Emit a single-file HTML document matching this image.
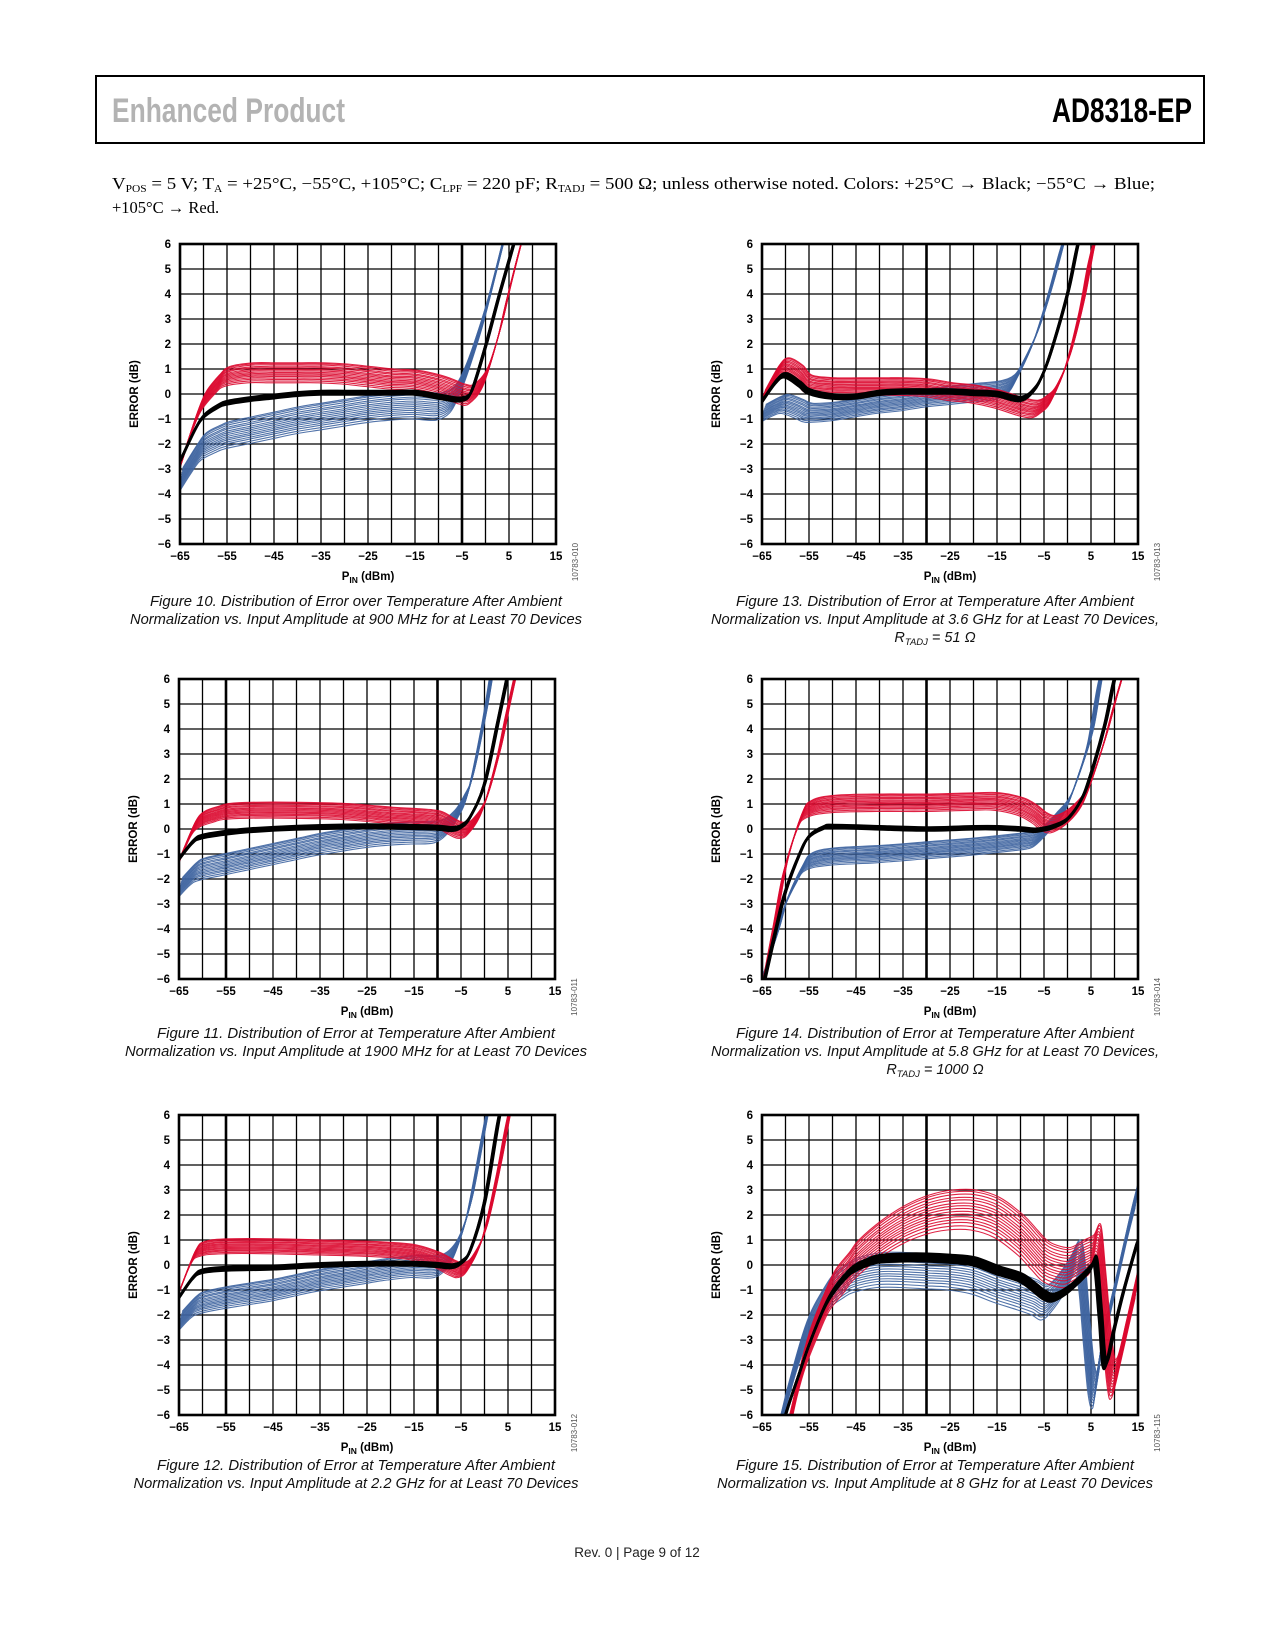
<!DOCTYPE html>
<html><head><meta charset="utf-8"><style>
html,body{margin:0;padding:0;background:#fff;}
svg{display:block;}
.tick{font-family:"Liberation Sans",Arial,sans-serif;font-weight:bold;font-size:11.5px;fill:#000;}
.cap{font-family:"Liberation Sans",Arial,sans-serif;font-style:italic;font-size:14.5px;fill:#111;}
.code{font-family:"Liberation Sans",Arial,sans-serif;font-size:8px;fill:#555;}
</style></head><body>
<svg id="page" width="1275" height="1650" viewBox="0 0 1275 1650" xmlns="http://www.w3.org/2000/svg">
<rect x="0" y="0" width="1275" height="1650" fill="#fff"/>
<rect x="96" y="76" width="1108" height="67" fill="none" stroke="#000" stroke-width="2"/>
<text x="112" y="122" font-family="Liberation Sans, sans-serif" font-weight="bold" font-size="34" fill="#b3b3b3" textLength="233" lengthAdjust="spacingAndGlyphs">Enhanced Product</text>
<text x="1192" y="122" text-anchor="end" font-family="Liberation Sans, sans-serif" font-weight="bold" font-size="34" fill="#000" textLength="140" lengthAdjust="spacingAndGlyphs">AD8318-EP</text>
<text x="112" y="189" font-family="Liberation Serif, serif" font-size="16.5" fill="#000" textLength="1043" lengthAdjust="spacingAndGlyphs">V<tspan font-size="10" dy="3">POS</tspan><tspan dy="-3"> = 5 V; T</tspan><tspan font-size="10" dy="3">A</tspan><tspan dy="-3"> = +25°C, −55°C, +105°C; C</tspan><tspan font-size="10" dy="3">LPF</tspan><tspan dy="-3"> = 220 pF; R</tspan><tspan font-size="10" dy="3">TADJ</tspan><tspan dy="-3"> = 500 Ω; unless otherwise noted. Colors: +25°C → Black; −55°C → Blue;</tspan></text>
<text x="112" y="213" font-family="Liberation Serif, serif" font-size="16.5" fill="#000">+105°C → Red.</text>
<text x="637" y="1557" text-anchor="middle" font-family="Liberation Sans, sans-serif" font-size="13.5" fill="#222">Rev. 0 | Page 9 of 12</text>
<g id="charts"></g>
</svg>
<script>
// ---- chart data (P_IN dBm -> error dB) ----
const fig10_black_x=[-65,-62,-60,-57,-55,-50,-45,-40,-35,-30,-25,-20,-15,-10,-7,-5,-3,0,3,6,8];
const fig10_black_y=[-2.7,-1.5,-0.9,-0.5,-0.35,-0.2,-0.1,0,0.05,0.05,0.05,0.05,0.05,-0.1,-0.2,-0.2,0.1,1.9,4.0,6.0,7.5];
const fig10_blue_x=[-65,-62,-60,-57,-55,-50,-45,-40,-35,-30,-25,-20,-15,-10,-7,-5,-3,0,3,5];
const fig10_blue_y=[-3.5,-2.6,-2.1,-1.8,-1.65,-1.45,-1.25,-1.05,-0.9,-0.75,-0.6,-0.5,-0.45,-0.5,-0.2,0.5,1.5,3.3,5.5,7];
const fig10_red_x=[-65,-62,-60,-57,-55,-50,-45,-40,-35,-30,-25,-20,-15,-10,-7,-5,-3,0,3,5,8,10];
const fig10_red_y=[-2.9,-1.2,-0.3,0.4,0.7,0.85,0.85,0.85,0.85,0.8,0.7,0.6,0.55,0.35,0.15,0,0,0.7,2.5,4.1,6.3,7.5];

const fig13_black_x=[-65,-62,-60,-57,-55,-50,-45,-40,-35,-30,-25,-20,-15,-10,-7,-5,-3,0,2,4];
const fig13_black_y=[-0.3,0.5,0.75,0.4,0.1,-0.1,-0.1,0.05,0.1,0.1,0.1,0.05,0,-0.2,0.2,0.9,2.0,4.0,5.8,7.5];
const fig13_blue_x=[-65,-62,-60,-57,-55,-50,-45,-40,-35,-30,-25,-20,-15,-12,-10,-7,-5,-3,-1,1];
const fig13_blue_y=[-0.8,-0.5,-0.4,-0.6,-0.75,-0.7,-0.55,-0.4,-0.3,-0.15,-0.05,0.05,0.15,0.4,1.0,2.2,3.3,4.6,6,7.2];
const fig13_red_x=[-65,-62,-60,-57,-55,-50,-45,-40,-35,-30,-25,-20,-15,-10,-7,-5,-3,0,3,5,7];
const fig13_red_y=[-0.2,0.8,1.1,0.8,0.4,0.3,0.3,0.3,0.3,0.25,0.1,0,-0.2,-0.5,-0.6,-0.4,0,1.3,3.5,5.5,7];

const fig11_black_x=[-65,-62,-60,-55,-50,-40,-30,-20,-10,-7,-5,-3,0,3,5];
const fig11_black_y=[-1.2,-0.5,-0.3,-0.15,-0.05,0.05,0.1,0.1,0.05,0,0.1,0.5,1.8,4.4,6.2];
const fig11_blue_x=[-65,-62,-60,-55,-50,-45,-40,-35,-30,-25,-20,-15,-10,-7,-5,-3,0,2];
const fig11_blue_y=[-2.4,-1.8,-1.6,-1.4,-1.2,-1.0,-0.8,-0.6,-0.45,-0.3,-0.2,-0.15,-0.1,0.3,0.9,1.8,4.5,6.8];
const fig11_red_x=[-65,-62,-60,-57,-55,-50,-40,-30,-20,-15,-10,-7,-5,-3,0,3,5,7];
const fig11_red_y=[-1.3,0,0.4,0.6,0.7,0.75,0.75,0.7,0.55,0.5,0.4,0.1,-0.05,0.1,1.0,3.0,4.8,6.5];

const fig14_black_x=[-65,-62,-60,-57,-55,-52,-50,-40,-30,-20,-15,-10,-7,-5,-3,0,3,5,8,10,12];
const fig14_black_y=[-6.5,-4,-2.5,-1,-0.3,0.05,0.1,0.05,0,0.05,0.05,0,-0.05,0,0.1,0.4,1.2,2.2,4.2,6,7.2];
const fig14_blue_x=[-65,-62,-60,-57,-55,-50,-40,-30,-20,-10,-7,-5,-3,0,3,5,7,9];
const fig14_blue_y=[-6,-4.3,-3,-1.8,-1.3,-1.1,-1.0,-0.85,-0.7,-0.5,-0.4,-0.1,0.3,1,2.5,3.8,6,7.5];
const fig14_red_x=[-65,-62,-60,-57,-55,-50,-40,-30,-20,-15,-10,-7,-5,-3,0,3,5,8,10,12,14];
const fig14_red_y=[-6.5,-3.5,-1.5,0.3,0.8,1.0,1.05,1.05,1.1,1.1,0.9,0.6,0.3,0.2,0.5,1.1,1.9,3.6,5.0,6.3,7.5];

const fig12_black_x=[-65,-62,-60,-55,-45,-35,-25,-15,-10,-7,-5,-3,0,3,5];
const fig12_black_y=[-1.3,-0.5,-0.25,-0.15,-0.1,0,0.05,0.05,0,-0.05,0.1,0.6,2.5,5.8,7.5];
const fig12_blue_x=[-65,-62,-60,-55,-50,-45,-40,-35,-30,-25,-20,-15,-10,-7,-5,-3,0,2];
const fig12_blue_y=[-2.3,-1.7,-1.5,-1.3,-1.15,-1.0,-0.8,-0.6,-0.45,-0.3,-0.15,-0.05,-0.05,0.4,1.2,2.5,5.5,7.5];
const fig12_red_x=[-65,-62,-60,-55,-45,-35,-25,-20,-15,-10,-7,-5,-3,0,3,5,7];
const fig12_red_y=[-1.1,0.3,0.65,0.75,0.75,0.7,0.65,0.6,0.5,0.2,-0.1,-0.2,0.1,1.3,3.8,5.8,7.5];

const fig15_black_x=[-65,-62,-60,-57,-55,-52,-50,-47,-45,-42,-40,-35,-30,-25,-20,-15,-10,-7,-5,-3,0,3,5,6,7,8,10,12,15];
const fig15_black_y=[-9,-7.5,-6,-4.3,-3.2,-1.8,-1.1,-0.4,-0.1,0.15,0.25,0.3,0.3,0.25,0.15,-0.2,-0.5,-0.9,-1.2,-1.3,-1.0,-0.5,-0.1,0.1,-2,-4,-2.5,-1,1];
const fig15_blue_x=[-65,-62,-60,-57,-55,-52,-50,-47,-45,-40,-35,-30,-25,-20,-15,-10,-7,-5,-3,0,2,3,4,5,6,7,10,13,15];
const fig15_blue_y=[-9,-7,-5.5,-3.5,-2.5,-1.5,-1,-0.6,-0.4,-0.2,-0.2,-0.25,-0.3,-0.45,-0.8,-1.1,-1.3,-1.5,-1.2,-0.4,0.3,-0.3,-2.5,-4.5,-5,-3.5,-1,1.5,3];
const fig15_red_x=[-65,-60,-57,-55,-52,-50,-47,-45,-40,-35,-30,-25,-20,-15,-10,-7,-5,-3,0,3,5,6.5,7.5,9,10,12,15];
const fig15_red_y=[-10,-7,-4.5,-3.2,-1.8,-1,-0.3,0.2,1.0,1.6,2.0,2.2,2.2,1.9,1.2,0.6,0.2,0,-0.1,0.2,0.4,0.8,-1,-4,-4.5,-3,-0.5];

// normalized device-to-device offsets (read as spread of the device population)
const deviceOffsets=[-1,-0.83,-0.66,-0.52,-0.37,-0.24,-0.1,0.04,0.18,0.31,0.47,0.6,0.76,0.9,1];
const blackOffsets=[-1,-0.5,0,0.45,1];
const xTicks=[-65,-55,-45,-35,-25,-15,-5,5,15];
const yTicks=[6,5,4,3,2,1,0,-1,-2,-3,-4,-5,-6];

const NS='http://www.w3.org/2000/svg';
const root=document.getElementById('charts');
function mk(tag,attrs,parent){const e=document.createElementNS(NS,tag);for(const k in attrs)e.setAttribute(k,attrs[k]);(parent||root).appendChild(e);return e;}
function pathD(pts){
  let d='M'+pts[0][0].toFixed(1)+','+pts[0][1].toFixed(1);
  for(let i=0;i<pts.length-1;i++){
    const p0=pts[i-1]||pts[i],p1=pts[i],p2=pts[i+1],p3=pts[i+2]||p2;
    const c1=[p1[0]+(p2[0]-p0[0])/6,p1[1]+(p2[1]-p0[1])/6];
    const c2=[p2[0]-(p3[0]-p1[0])/6,p2[1]-(p3[1]-p1[1])/6];
    d+='C'+c1[0].toFixed(1)+','+c1[1].toFixed(1)+' '+c2[0].toFixed(1)+','+c2[1].toFixed(1)+' '+p2[0].toFixed(1)+','+p2[1].toFixed(1);
  }
  return d;
}
const charts=[
 {id:'fig10',left:180,top:244,heavy:[12],code:'10783-010',cx:356,cy:606,series:[[fig10_blue_x,fig10_blue_y,'#3e64a0',0.55,0.6],[fig10_red_x,fig10_red_y,'#dc0a30',0.4,0.6],[fig10_black_x,fig10_black_y,'#000',0.07,0.2]],
  cap:['Figure 10. Distribution of Error over Temperature After Ambient','Normalization vs. Input Amplitude at 900 MHz for at Least 70 Devices'],capw:[412,452]},
 {id:'fig13',left:762,top:244,heavy:[7],code:'10783-013',cx:935,cy:606,series:[[fig13_blue_x,fig13_blue_y,'#3e64a0',0.38,0.8],[fig13_red_x,fig13_red_y,'#dc0a30',0.35,0.7],[fig13_black_x,fig13_black_y,'#000',0.08,0.2]],
  cap:['Figure 13. Distribution of Error at Temperature After Ambient','Normalization vs. Input Amplitude at 3.6 GHz for at Least 70 Devices,','R|TADJ| = 51 Ω'],capw:[398,448,0]},
 {id:'fig11',left:179,top:679,heavy:[2,11],code:'10783-011',cx:356,cy:1038,series:[[fig11_blue_x,fig11_blue_y,'#3e64a0',0.45,0.7],[fig11_red_x,fig11_red_y,'#dc0a30',0.32,0.6],[fig11_black_x,fig11_black_y,'#000',0.07,0.2]],
  cap:['Figure 11. Distribution of Error at Temperature After Ambient','Normalization vs. Input Amplitude at 1900 MHz for at Least 70 Devices'],capw:[398,462]},
 {id:'fig14',left:762,top:679,heavy:[7],code:'10783-014',cx:935,cy:1038,series:[[fig14_blue_x,fig14_blue_y,'#3e64a0',0.35,0.7],[fig14_red_x,fig14_red_y,'#dc0a30',0.35,0.6],[fig14_black_x,fig14_black_y,'#000',0.06,0.2]],
  cap:['Figure 14. Distribution of Error at Temperature After Ambient','Normalization vs. Input Amplitude at 5.8 GHz for at Least 70 Devices,','R|TADJ| = 1000 Ω'],capw:[398,448,0]},
 {id:'fig12',left:179,top:1115,heavy:[2,11],code:'10783-012',cx:356,cy:1470,series:[[fig12_blue_x,fig12_blue_y,'#3e64a0',0.45,0.7],[fig12_red_x,fig12_red_y,'#dc0a30',0.3,0.6],[fig12_black_x,fig12_black_y,'#000',0.07,0.2]],
  cap:['Figure 12. Distribution of Error at Temperature After Ambient','Normalization vs. Input Amplitude at 2.2 GHz for at Least 70 Devices'],capw:[398,445]},
 {id:'fig15',left:762,top:1115,heavy:[7],code:'10783-115',cx:935,cy:1470,series:[[fig15_blue_x,fig15_blue_y,'#3e64a0',0.7,0.6],[fig15_red_x,fig15_red_y,'#dc0a30',0.8,0.6],[fig15_black_x,fig15_black_y,'#000',0.15,0.3]],
  cap:['Figure 15. Distribution of Error at Temperature After Ambient','Normalization vs. Input Amplitude at 8 GHz for at Least 70 Devices'],capw:[398,436]}
];
const W=376,H=300;
charts.forEach(c=>{
  const g=mk('g',{});
  
  
  const sx=v=>c.left+(v+65)/80*W;
  const sy=v=>c.top+(6-v)/12*H;
  const cp=mk('clipPath',{id:'clip-'+c.id},g);
  mk('rect',{x:c.left,y:c.top,width:W,height:H},cp);
  for(let i=1;i<16;i++){const x=c.left+i*W/16;const l=mk('line',{x1:x,y1:c.top,x2:x,y2:c.top+H,stroke:'#000','stroke-width':c.heavy.includes(i)?2.6:1.3},g);}
  for(let j=1;j<12;j++){const y=c.top+j*H/12;const l=mk('line',{x1:c.left,y1:y,x2:c.left+W,y2:y,stroke:'#000','stroke-width':1.3},g);}
  const lines=mk('g',{'clip-path':'url(#clip-'+c.id+')'},g);
  c.series.forEach((s,si)=>{
    const [xs,ys,col,ySpread,xSpread]=s;
    const offs=si===2?blackOffsets:deviceOffsets;
    offs.forEach(o=>{
      const pts=xs.map((x,k)=>[sx(x+o*xSpread),sy(ys[k]+o*ySpread)]);
      const p=mk('path',{d:pathD(pts),fill:'none',stroke:col,'stroke-width':si===2?2.6:1.1,'stroke-opacity':si===2?1:0.9},lines);
      
      
    });
  });
  const fr=mk('rect',{x:c.left,y:c.top,width:W,height:H,fill:'none',stroke:'#000','stroke-width':2.6},g);
  
  yTicks.forEach(v=>{const t=mk('text',{x:c.left-9,y:sy(v)+4,'text-anchor':'end',class:'tick'},g);t.textContent=(v<0?'−':'')+Math.abs(v);});
  xTicks.forEach(v=>{const t=mk('text',{x:sx(v),y:c.top+H+16,'text-anchor':'middle',class:'tick'},g);t.textContent=(v<0?'−':'')+Math.abs(v);});
  const xt=mk('text',{x:c.left+W/2,y:c.top+H+36,'text-anchor':'middle',class:'tick'},g);
  
  xt.innerHTML='P<tspan font-size="8.5" dy="3">IN</tspan><tspan dy="-3"> (dBm)</tspan>';
  const yt=mk('text',{x:0,y:0,'text-anchor':'middle',class:'tick',transform:'translate('+(c.left-42)+','+(c.top+H/2)+') rotate(-90)'},g);
  
  yt.textContent='ERROR (dB)';
  const cd=mk('text',{x:0,y:0,'text-anchor':'middle',class:'code',transform:'translate('+(c.left+W+22)+','+(c.top+H+18)+') rotate(-90)'},g);
  
  cd.textContent=c.code;
  c.cap.forEach((line,i)=>{
    const t=mk('text',{x:c.cx,y:c.cy+i*18,'text-anchor':'middle',class:'cap'},g);
    
    if(line.includes('|')){const p=line.split('|');t.innerHTML=p[0]+'<tspan font-size="9.5" dy="3">'+p[1]+'</tspan><tspan dy="-3">'+p[2]+'</tspan>';}
    else{t.textContent=line;if(c.capw[i]){t.setAttribute('textLength',c.capw[i]);t.setAttribute('lengthAdjust','spacingAndGlyphs');}}
  });
});
</script>
</body></html>
